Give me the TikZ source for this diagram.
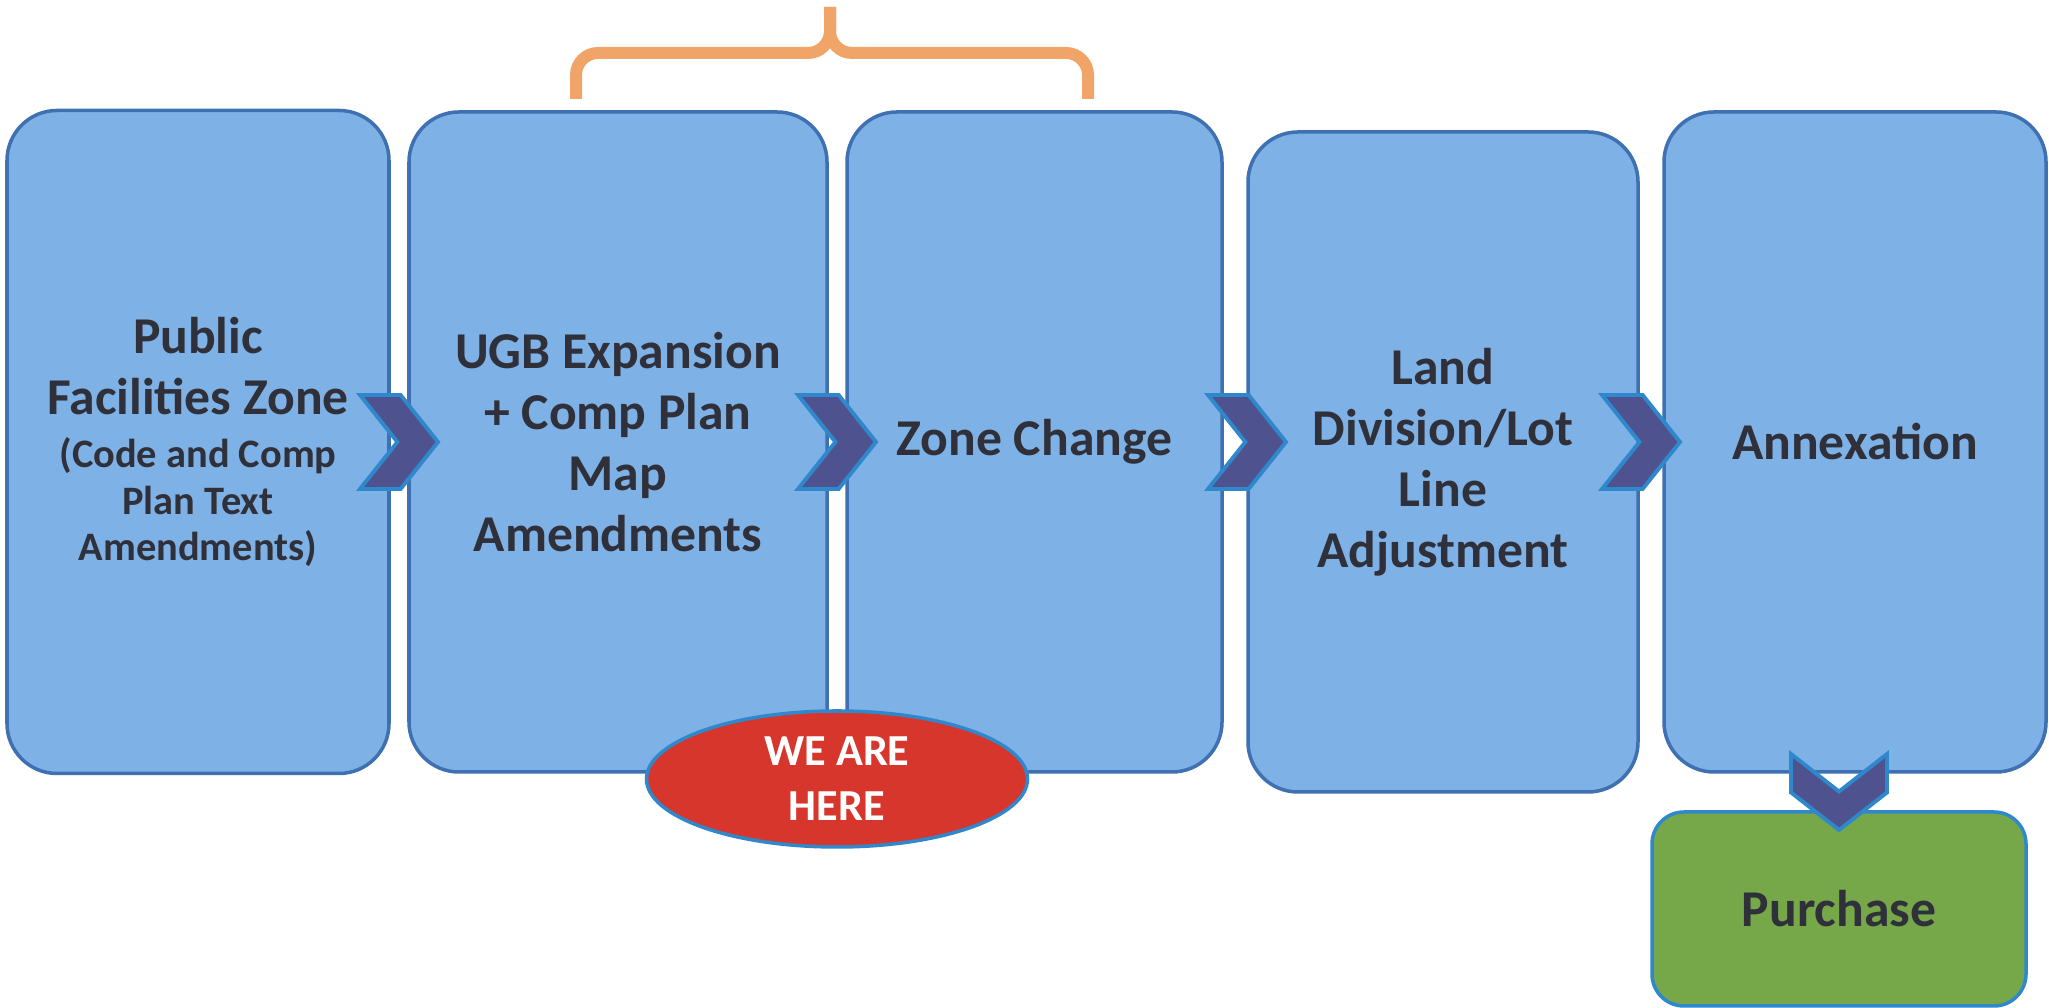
\documentclass[tikz,border=0pt]{standalone}
\usepackage{fontspec}
\setmainfont{Carlito}
\usetikzlibrary{positioning,calc,shapes.geometric,shapes.symbols}
\definecolor{boxblue}{RGB}{126,178,230}
\definecolor{edgeblue}{RGB}{62,112,178}
\definecolor{chevfill}{RGB}{78,82,142}
\definecolor{chevedge}{RGB}{48,136,204}
\definecolor{buygreen}{RGB}{118,168,74}
\definecolor{herered}{RGB}{214,54,44}
\definecolor{braceorange}{RGB}{240,164,104}
\definecolor{inkgrey}{RGB}{48,48,58}
\newcommand{\smalltxt}{\fontsize{11.5}{12.5}\selectfont}
\tikzset{node distance=0.2cm, % gap between the stage boxes
        stage/.style={ % the big blue step boxes
            draw=edgeblue, line width=1pt, outer sep=0pt,
            fill=boxblue,
            rounded corners=0.5cm,
            minimum height=6.6cm,
            align=center, text=inkgrey,
            font=\fontsize{14.7}{17.4}\selectfont\bfseries},
        chevron/.style={ % arrow between two boxes
            signal, signal from=west, signal to=east,
            signal pointer angle=103,
            draw=chevedge, line width=1.1pt, fill=chevfill,
            minimum width=0.78cm, minimum height=0.94cm, inner sep=0pt},
        downchevron/.style={
            chevron, rotate=-90,
            signal pointer angle=104,
            minimum width=0.76cm, minimum height=0.96cm},
        buybox/.style={
            draw=chevedge, line width=1pt, outer sep=0pt, fill=buygreen,
            rounded corners=0.32cm,
            minimum width=3.74cm, minimum height=1.94cm,
            text=inkgrey, font=\fontsize{14.7}{17.4}\selectfont\bfseries},
        herebadge/.style={
            ellipse, draw=chevedge, line width=1pt, fill=herered,
            minimum width=3.81cm, minimum height=1.36cm, inner sep=0pt,
            align=center, text=white,
            font=\fontsize{12.6}{15.6}\selectfont\bfseries},
        bracket/.style={
            draw=braceorange, line width=0.12cm, rounded corners=0.22cm}
        }
\begin{document}
\begin{tikzpicture}
    \useasboundingbox (0,0) rectangle (20.49,10.08);

    \node[stage, minimum width=3.82cm, minimum height=6.63cm] (pfz) at (1.98,5.66)
        {Public\\Facilities Zone\\[-2.2pt]\smalltxt (Code and Comp\\[-4.2pt]\smalltxt Plan Text\\[-4.2pt]\smalltxt Amendments)};
    \node[stage, minimum width=4.18cm] (ugb) [right=of pfz]
        {UGB Expansion\\+ Comp Plan\\Map\\Amendments};
    \node[stage, minimum width=3.75cm] (zone) [right=of ugb] {Zone Change};
    \node[stage, minimum width=3.90cm] (land) [right=0.26cm of zone, yshift=-0.2cm]
        {Land\\Division/Lot\\Line\\Adjustment};
    \node[stage, minimum width=3.82cm] (annex) [right=0.26cm of land, yshift=0.2cm] {Annexation};
    \node[buybox] (buy) [below=0.4cm of annex, xshift=-0.16cm] {Purchase};

    \node[herebadge] (here) at ($(ugb.south east)!0.5!(zone.south west)$) [yshift=-0.07cm] {WE ARE\\HERE};

    % arrows between the steps
    \node[chevron] (c1) at ($(pfz.east)!0.5!(ugb.west)$) {};
    \node[chevron] (c2) at ($(ugb.east)!0.5!(zone.west)$) {};
    \node[chevron] (c3) at ($(zone.east)!0.5!(land.west |- zone.east)$) [xshift=0.12cm] {};
    \node[chevron] (c4) at ($(land.east |- annex.west)!0.5!(annex.west)$) [xshift=-0.1cm] {};
    \node[downchevron] (c5) at ($(annex.south -| buy.north)!0.5!(buy.north)$) {};

    % bracket over the two current steps
    \draw[bracket] (5.76,9.09) -- (5.76,9.55) -- (8.30,9.55) -- (8.30,10.01);
    \draw[bracket] (10.88,9.09) -- (10.88,9.55) -- (8.30,9.55) -- (8.30,10.01);
\end{tikzpicture}
\end{document}
